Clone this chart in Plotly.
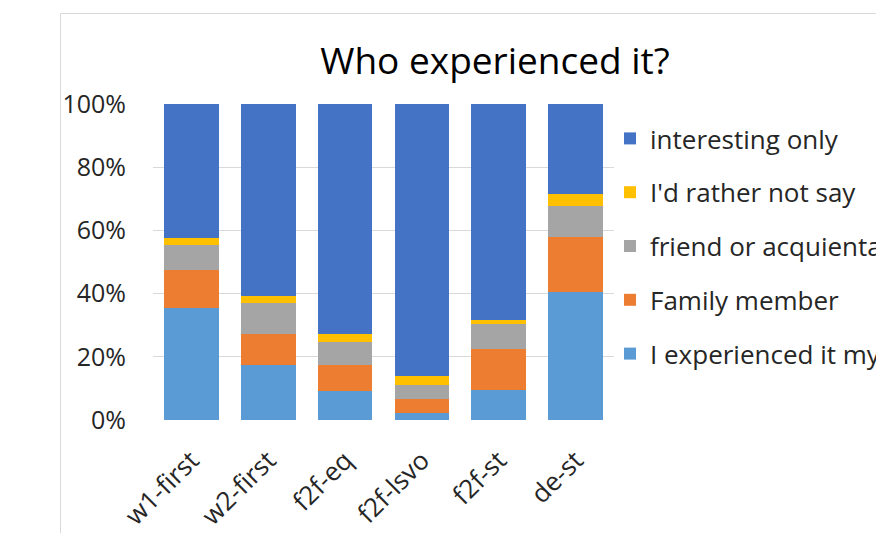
import plotly.graph_objects as go

# Survey groups along the x axis
groups = ["w1-first", "w2-first", "f2f-eq", "f2f-lsvo", "f2f-st", "de-st"]

# Share of responses per group (percent), stacked bottom to top
self_exp = [35.4, 17.3, 9.2, 2.1, 9.5, 40.5]
family = [12.1, 9.8, 8.1, 4.5, 13.0, 17.5]
friend = [8.0, 9.9, 7.3, 4.4, 7.8, 9.8]
not_say = [2.2, 2.4, 2.5, 3.0, 1.2, 3.6]
interesting = [42.3, 60.6, 72.9, 86.0, 68.5, 28.6]

series = [
    ("I experienced it myself", self_exp, "#5B9BD5"),
    ("Family member", family, "#ED7D31"),
    ("friend or acquientance", friend, "#A5A5A5"),
    ("I'd rather not say", not_say, "#FFC000"),
    ("interesting only", interesting, "#4472C4"),
]

fig = go.Figure()
n = len(series)
for i, (name, vals, color) in enumerate(series):
    fig.add_trace(go.Bar(
        x=groups, y=[v / 100 for v in vals], name=name,
        marker=dict(color=color, line=dict(width=0)),
        legendgroup=str(i), legendrank=n - i,
    ))

W, H = 876, 533
L, R, T, B = 153, 262, 104, 113
pw, ph = W - L - R, H - T - B

def px_x(x):
    return (x - L) / pw

def px_y(y):
    return (H - B - y) / ph

font = "Open Sans, Segoe UI, sans-serif"

fig.update_layout(
    width=W, height=H,
    barmode="stack",
    bargap=0.29,
    paper_bgcolor="white", plot_bgcolor="white",
    margin=dict(l=L, r=R, t=T, b=B, autoexpand=False),
    font=dict(family=font, size=25, color="#262626"),
    title=dict(text="Who experienced it?", x=495 / W, xref="container", xanchor="center",
               y=1 - 61 / H, yref="container", yanchor="middle",
               font=dict(size=37, color="#000000", family=font)),
    legend=dict(traceorder="grouped", tracegroupgap=17,
                x=px_x(610), xanchor="left", y=px_y(115), yanchor="top",
                font=dict(size=26, color="#262626"), bgcolor="rgba(0,0,0,0)"),
    xaxis=dict(tickangle=-45, showgrid=False, showline=False, ticks="",
               ticklabelstandoff=19,
               tickfont=dict(size=26, color="#262626")),
    yaxis=dict(range=[0, 1], tickformat=".0%", dtick=0.2, showgrid=True,
               gridcolor="#d9d9d9", gridwidth=1, zeroline=False, showline=False,
               ticks="", ticklabelstandoff=26, tickfont=dict(size=25, color="#262626")),
    shapes=[dict(type="rect", xref="paper", yref="paper",
                 x0=px_x(60.5), x1=px_x(900), y0=px_y(560), y1=px_y(13.5),
                 line=dict(color="#d9d9d9", width=1), fillcolor="rgba(0,0,0,0)",
                 layer="below")],
)

fig.write_html("out.html")
